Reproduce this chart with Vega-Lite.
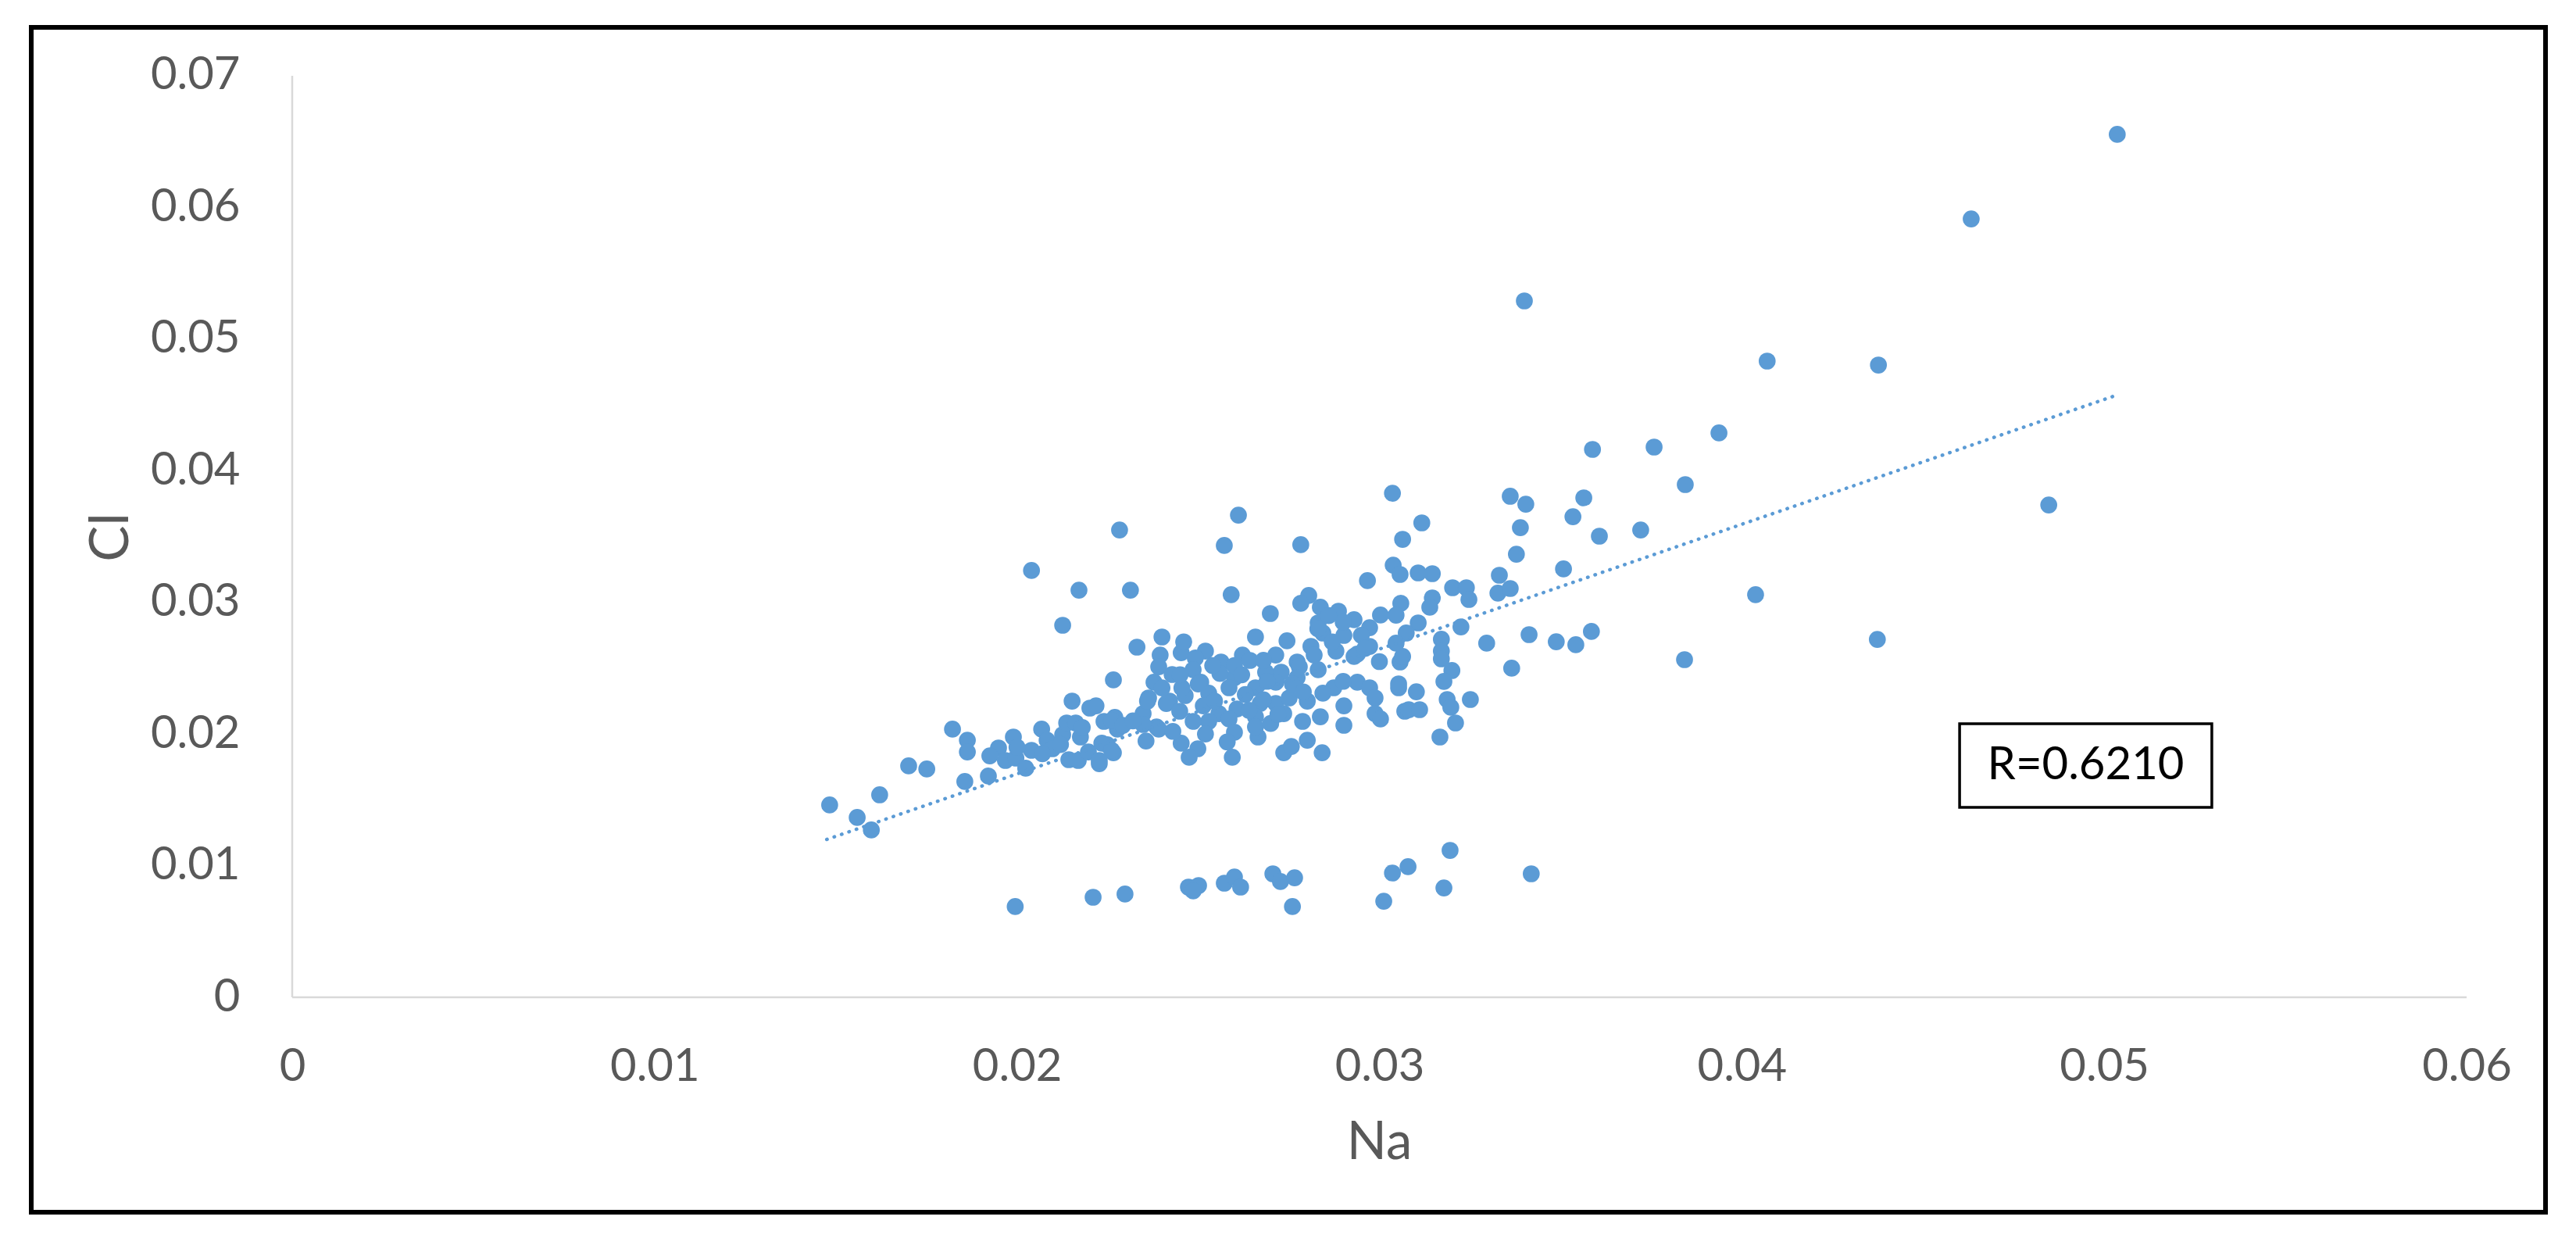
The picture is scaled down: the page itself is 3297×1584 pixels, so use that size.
{
  "$schema": "https://vega.github.io/schema/vega-lite/v6.json",
  "width": 3218,
  "height": 1516,
  "autosize": "none",
  "padding": {"left": 40, "top": 35, "right": 39, "bottom": 33},
  "background": "white",
  "config": {"view": {"stroke": "#000000", "strokeWidth": 6}, "font": "Lato"},
  "datasets": {
    "points": [
      {"Na":0.01483,"Cl":0.01461},{"Na":0.01559,"Cl":0.01366},{"Na":0.01598,"Cl":0.01271},{"Na":0.01621,"Cl":0.01538},
      {"Na":0.01701,"Cl":0.01758},{"Na":0.01751,"Cl":0.01734},{"Na":0.01822,"Cl":0.02037},{"Na":0.01863,"Cl":0.01953},
      {"Na":0.01863,"Cl":0.01864},{"Na":0.01856,"Cl":0.01639},{"Na":0.01921,"Cl":0.01681},{"Na":0.01949,"Cl":0.01894},
      {"Na":0.01925,"Cl":0.01834},{"Na":0.01968,"Cl":0.01799},{"Na":0.01997,"Cl":0.01817},{"Na":0.0199,"Cl":0.01977},
      {"Na":0.02024,"Cl":0.0174},{"Na":0.0204,"Cl":0.01876},{"Na":0.02068,"Cl":0.02037},{"Na":0.02083,"Cl":0.01953},
      {"Na":0.02098,"Cl":0.01888},{"Na":0.02126,"Cl":0.01995},{"Na":0.02137,"Cl":0.02084},{"Na":0.02162,"Cl":0.02084},
      {"Na":0.02175,"Cl":0.01977},{"Na":0.02143,"Cl":0.01805},{"Na":0.02169,"Cl":0.01799},{"Na":0.02197,"Cl":0.01864},
      {"Na":0.02152,"Cl":0.0225},{"Na":0.02201,"Cl":0.02197},{"Na":0.0224,"Cl":0.02096},{"Na":0.0227,"Cl":0.02126},
      {"Na":0.02277,"Cl":0.02037},{"Na":0.02249,"Cl":0.01918},{"Na":0.02266,"Cl":0.01858},{"Na":0.02227,"Cl":0.01775},
      {"Na":0.02126,"Cl":0.02826},{"Na":0.02266,"Cl":0.02411},{"Na":0.0204,"Cl":0.03242},{"Na":0.02171,"Cl":0.03093},
      {"Na":0.02283,"Cl":0.0355},{"Na":0.02611,"Cl":0.03663},{"Na":0.02572,"Cl":0.03432},{"Na":0.02783,"Cl":0.03438},
      {"Na":0.03036,"Cl":0.03829},{"Na":0.03064,"Cl":0.03479},{"Na":0.02313,"Cl":0.03093},{"Na":0.02591,"Cl":0.03058},
      {"Na":0.02967,"Cl":0.03165},{"Na":0.03038,"Cl":0.03283},{"Na":0.02699,"Cl":0.02915},{"Na":0.02805,"Cl":0.03052},
      {"Na":0.02783,"Cl":0.02993},{"Na":0.02837,"Cl":0.02963},{"Na":0.02887,"Cl":0.02933},{"Na":0.0293,"Cl":0.02868},
      {"Na":0.03003,"Cl":0.02904},{"Na":0.02831,"Cl":0.02844},{"Na":0.02844,"Cl":0.02767},{"Na":0.02973,"Cl":0.02808},
      {"Na":0.02902,"Cl":0.02749},{"Na":0.02658,"Cl":0.02737},{"Na":0.02745,"Cl":0.02708},{"Na":0.02331,"Cl":0.0266},
      {"Na":0.024,"Cl":0.02737},{"Na":0.02453,"Cl":0.02618},{"Na":0.0252,"Cl":0.0263},{"Na":0.02622,"Cl":0.026},
      {"Na":0.02811,"Cl":0.02666},{"Na":0.0288,"Cl":0.0263},{"Na":0.02939,"Cl":0.02607},{"Na":0.02973,"Cl":0.02666},
      {"Na":0.02714,"Cl":0.026},{"Na":0.02395,"Cl":0.026},{"Na":0.02492,"Cl":0.02577},{"Na":0.02563,"Cl":0.02547},
      {"Na":0.02643,"Cl":0.02559},{"Na":0.02773,"Cl":0.02547},{"Na":0.0293,"Cl":0.02589},{"Na":0.03057,"Cl":0.02547},
      {"Na":0.02391,"Cl":0.02511},{"Na":0.02428,"Cl":0.02452},{"Na":0.02378,"Cl":0.02393},{"Na":0.02729,"Cl":0.0247},
      {"Na":0.02779,"Cl":0.02511},{"Na":0.02831,"Cl":0.02488},{"Na":0.02486,"Cl":0.02488},{"Na":0.02507,"Cl":0.02393},
      {"Na":0.026,"Cl":0.02428},{"Na":0.02529,"Cl":0.0231},{"Na":0.02585,"Cl":0.02351},{"Na":0.02658,"Cl":0.02351},
      {"Na":0.02686,"Cl":0.0247},{"Na":0.02714,"Cl":0.02393},{"Na":0.02874,"Cl":0.02351},{"Na":0.02939,"Cl":0.02393},
      {"Na":0.03053,"Cl":0.02351},{"Na":0.02973,"Cl":0.02351},{"Na":0.02773,"Cl":0.02428},{"Na":0.02363,"Cl":0.02274},
      {"Na":0.02421,"Cl":0.0225},{"Na":0.02464,"Cl":0.02292},{"Na":0.02348,"Cl":0.02155},{"Na":0.02412,"Cl":0.02232},
      {"Na":0.02449,"Cl":0.02173},{"Na":0.02514,"Cl":0.02214},{"Na":0.02557,"Cl":0.02155},{"Na":0.02607,"Cl":0.0219},
      {"Na":0.02671,"Cl":0.02232},{"Na":0.02714,"Cl":0.02232},{"Na":0.02751,"Cl":0.02274},{"Na":0.02801,"Cl":0.0225},
      {"Na":0.02844,"Cl":0.0231},{"Na":0.02902,"Cl":0.02214},{"Na":0.02988,"Cl":0.02274},{"Na":0.0307,"Cl":0.02173},
      {"Na":0.02988,"Cl":0.02155},{"Na":0.03003,"Cl":0.02114},{"Na":0.02902,"Cl":0.02066},{"Na":0.02837,"Cl":0.02131},
      {"Na":0.02788,"Cl":0.02096},{"Na":0.02736,"Cl":0.02155},{"Na":0.02658,"Cl":0.02131},{"Na":0.02585,"Cl":0.02114},
      {"Na":0.02529,"Cl":0.02096},{"Na":0.02486,"Cl":0.02096},{"Na":0.02385,"Cl":0.02054},{"Na":0.02348,"Cl":0.02072},
      {"Na":0.02261,"Cl":0.02102},{"Na":0.02292,"Cl":0.02066},{"Na":0.02218,"Cl":0.02214},{"Na":0.02356,"Cl":0.01947},
      {"Na":0.02391,"Cl":0.02037},{"Na":0.02453,"Cl":0.0193},{"Na":0.02499,"Cl":0.01888},{"Na":0.02475,"Cl":0.01823},
      {"Na":0.02594,"Cl":0.01823},{"Na":0.026,"Cl":0.02013},{"Na":0.02665,"Cl":0.01977},{"Na":0.02658,"Cl":0.02054},
      {"Na":0.02736,"Cl":0.01858},{"Na":0.02757,"Cl":0.01905},{"Na":0.02801,"Cl":0.01953},{"Na":0.02842,"Cl":0.01858},
      {"Na":0.02234,"Cl":0.0193},{"Na":0.02261,"Cl":0.01876},{"Na":0.02227,"Cl":0.01799},
      {"Na":0.02455,"Cl":0.0235},{"Na":0.02545,"Cl":0.0225},{"Na":0.0263,"Cl":0.023},{"Na":0.0269,"Cl":0.024},
      {"Na":0.0256,"Cl":0.0246},{"Na":0.0264,"Cl":0.0218},{"Na":0.027,"Cl":0.0208},{"Na":0.0276,"Cl":0.0238},
      {"Na":0.0282,"Cl":0.026},{"Na":0.0287,"Cl":0.027},{"Na":0.029,"Cl":0.0285},{"Na":0.0295,"Cl":0.0275},
      {"Na":0.0286,"Cl":0.029},{"Na":0.0246,"Cl":0.027},{"Na":0.0254,"Cl":0.0252},{"Na":0.026,"Cl":0.0252},
      {"Na":0.0268,"Cl":0.0256},{"Na":0.0243,"Cl":0.0202},{"Na":0.0252,"Cl":0.02},{"Na":0.0258,"Cl":0.0194},
      {"Na":0.02,"Cl":0.019},{"Na":0.0207,"Cl":0.0185},{"Na":0.0212,"Cl":0.0192},{"Na":0.0218,"Cl":0.0205},
      {"Na":0.0232,"Cl":0.021},{"Na":0.0236,"Cl":0.0225},{"Na":0.024,"Cl":0.0235},{"Na":0.0245,"Cl":0.0245},
      {"Na":0.025,"Cl":0.0238},{"Na":0.0262,"Cl":0.0245},{"Na":0.0268,"Cl":0.0226},{"Na":0.0272,"Cl":0.0215},
      {"Na":0.0279,"Cl":0.0232},{"Na":0.0283,"Cl":0.028},{"Na":0.0296,"Cl":0.0265},{"Na":0.03,"Cl":0.0255},
      {"Na":0.029,"Cl":0.024},
      {"Na":0.03117,"Cl":0.03604},{"Na":0.03361,"Cl":0.03806},{"Na":0.03404,"Cl":0.03746},{"Na":0.03564,"Cl":0.03794},
      {"Na":0.03534,"Cl":0.03651},{"Na":0.03607,"Cl":0.03503},{"Na":0.03721,"Cl":0.0355},{"Na":0.03389,"Cl":0.03568},
      {"Na":0.03378,"Cl":0.03366},{"Na":0.03508,"Cl":0.03254},{"Na":0.03057,"Cl":0.03212},{"Na":0.03107,"Cl":0.03224},
      {"Na":0.03146,"Cl":0.03218},{"Na":0.03202,"Cl":0.03111},{"Na":0.0324,"Cl":0.03111},{"Na":0.03247,"Cl":0.03022},
      {"Na":0.03146,"Cl":0.03034},{"Na":0.03139,"Cl":0.02963},{"Na":0.03331,"Cl":0.03206},{"Na":0.03327,"Cl":0.0307},
      {"Na":0.03361,"Cl":0.03105},{"Na":0.03059,"Cl":0.02993},{"Na":0.03046,"Cl":0.02903},{"Na":0.03107,"Cl":0.02844},
      {"Na":0.03074,"Cl":0.02767},{"Na":0.03225,"Cl":0.02814},{"Na":0.03296,"Cl":0.0269},{"Na":0.03413,"Cl":0.02755},
      {"Na":0.03488,"Cl":0.02701},{"Na":0.03542,"Cl":0.02678},{"Na":0.03585,"Cl":0.02779},{"Na":0.03365,"Cl":0.025},
      {"Na":0.03171,"Cl":0.0272},{"Na":0.03171,"Cl":0.0263},{"Na":0.03171,"Cl":0.02571},{"Na":0.032,"Cl":0.02482},
      {"Na":0.03178,"Cl":0.02399},{"Na":0.03251,"Cl":0.02262},{"Na":0.03187,"Cl":0.02262},{"Na":0.03197,"Cl":0.02203},
      {"Na":0.0321,"Cl":0.02084},{"Na":0.03167,"Cl":0.01977},{"Na":0.03064,"Cl":0.02589},{"Na":0.03053,"Cl":0.02381},
      {"Na":0.03102,"Cl":0.02321},{"Na":0.03081,"Cl":0.02185},{"Na":0.03111,"Cl":0.02185},{"Na":0.03046,"Cl":0.0269},
      {"Na":0.03758,"Cl":0.0418},{"Na":0.03937,"Cl":0.04287},{"Na":0.03844,"Cl":0.03895},{"Na":0.04038,"Cl":0.03058},
      {"Na":0.04374,"Cl":0.02719},{"Na":0.03842,"Cl":0.02565},{"Na":0.03588,"Cl":0.04162},{"Na":0.034,"Cl":0.0529},
      {"Na":0.04847,"Cl":0.0374},{"Na":0.05036,"Cl":0.06555},{"Na":0.04633,"Cl":0.05913},{"Na":0.0407,"Cl":0.04833},
      {"Na":0.04377,"Cl":0.04803},
      {"Na":0.01995,"Cl":0.00689},{"Na":0.0221,"Cl":0.0076},{"Na":0.02298,"Cl":0.00784},{"Na":0.02473,"Cl":0.00837},
      {"Na":0.02501,"Cl":0.00849},{"Na":0.02486,"Cl":0.00808},{"Na":0.02572,"Cl":0.00867},{"Na":0.026,"Cl":0.00914},
      {"Na":0.02617,"Cl":0.00837},{"Na":0.02706,"Cl":0.00938},{"Na":0.02727,"Cl":0.00879},{"Na":0.02766,"Cl":0.00908},
      {"Na":0.0276,"Cl":0.00689},{"Na":0.03012,"Cl":0.0073},{"Na":0.03036,"Cl":0.00944},{"Na":0.03079,"Cl":0.00992},
      {"Na":0.03195,"Cl":0.01116},{"Na":0.03178,"Cl":0.00831},{"Na":0.03419,"Cl":0.00938}
    ],
    "trend": [{"Na":0.01475,"Cl":0.01199},{"Na":0.0503,"Cl":0.0457}],
    "axislines": [{"Na":0,"Na2":0.06,"Cl":0,"Cl2":0},{"Na":0,"Na2":0,"Cl":0,"Cl2":0.07}],
    "rbox": [{"Na":0.04601,"Na2":0.05297,"Cl":0.01443,"Cl2":0.02078}],
    "rlabel": [{"Na":0.04949,"Cl":0.0176,"label":"R=0.6210"}]
  },
  "encoding": {
    "x": {
      "field": "Na", "type": "quantitative",
      "scale": {"domain": [-0.0072009, 0.062178], "nice": false, "zero": false},
      "axis": {
        "values": [0, 0.01, 0.02, 0.03, 0.04, 0.05, 0.06], "format": ".2~f",
        "offset": -275, "domain": false, "ticks": false, "grid": false,
        "labelFont": "Lato", "labelFontSize": 58, "labelColor": "#595959", "labelPadding": 60,
        "title": "Na", "titleFont": "Lato", "titleFontSize": 67, "titleFontWeight": "normal", "titleColor": "#595959",
        "titleX": 1725, "titleY": 186, "titleBaseline": "middle", "titleAlign": "center"
      }
    },
    "y": {
      "field": "Cl", "type": "quantitative",
      "scale": {"domain": [-0.016327, 0.073681], "nice": false, "zero": false},
      "axis": {
        "values": [0, 0.01, 0.02, 0.03, 0.04, 0.05, 0.06, 0.07], "format": ".2~f",
        "offset": -334, "domain": false, "ticks": false, "grid": false,
        "labelFont": "Lato", "labelFontSize": 58, "labelColor": "#595959", "labelPadding": 67,
        "title": "Cl", "titleFont": "Lato", "titleFontSize": 69, "titleFontWeight": "normal", "titleColor": "#595959",
        "titleX": -232, "titleY": 652, "titleBaseline": "middle", "titleAlign": "center", "titleAngle": -90
      }
    }
  },
  "layer": [
    {
      "data": {"name": "axislines"},
      "mark": {"type": "rule", "color": "#d9d9d9", "strokeWidth": 2.5},
      "encoding": {"x2": {"field": "Na2"}, "y2": {"field": "Cl2"}}
    },
    {
      "data": {"name": "points"},
      "mark": {"type": "circle", "color": "#5b9bd5", "opacity": 1, "size": 470}
    },
    {
      "data": {"name": "trend"},
      "mark": {"type": "line", "color": "#5b9bd5", "strokeWidth": 4.5, "strokeDash": [0.5, 9.5], "strokeCap": "round"}
    },
    {
      "data": {"name": "rbox"},
      "mark": {"type": "rect", "fill": "white", "stroke": "#000000", "strokeWidth": 3.5},
      "encoding": {"x2": {"field": "Na2"}, "y2": {"field": "Cl2"}}
    },
    {
      "data": {"name": "rlabel"},
      "mark": {"type": "text", "font": "Lato", "fontSize": 58, "color": "#000000", "align": "center", "baseline": "middle"},
      "encoding": {"text": {"field": "label"}}
    }
  ]
}
